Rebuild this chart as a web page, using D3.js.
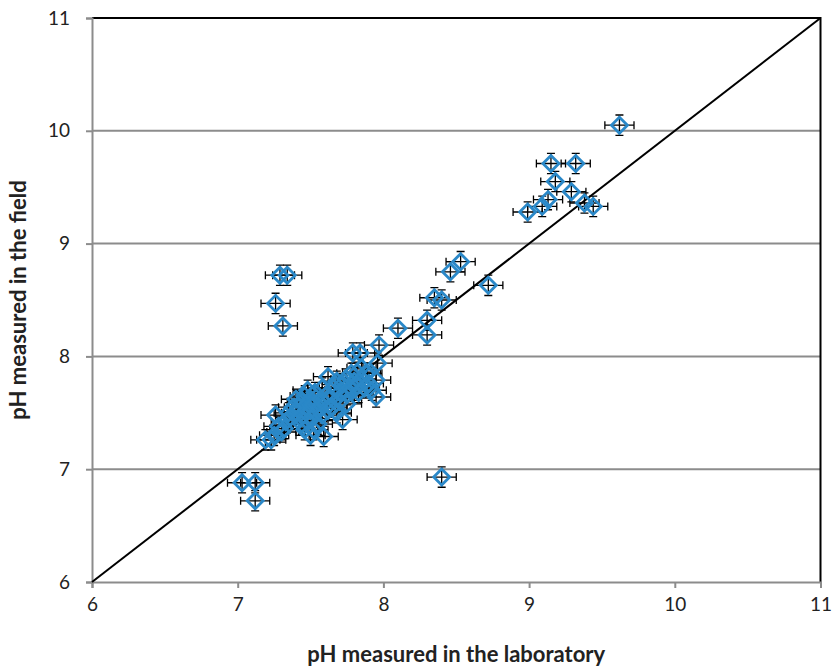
<!DOCTYPE html>
<html>
<head>
<meta charset="utf-8">
<script src="https://cdn.jsdelivr.net/npm/d3@7.9.0/dist/d3.min.js"></script>
<style>
  body { margin: 0; background: #fff; }
  svg text { font-family: Lato, "Open Sans", sans-serif; fill: #222; }
</style>
</head>
<body>
<div id="chart"></div>
<script>
// pH measured in the laboratory (x) vs in the field (y)
const labPH = [
  9.62, 9.15, 9.32, 9.18, 9.29, 9.13, 9.09, 8.99, 9.38, 9.44,
  7.29, 7.34, 7.26, 7.31, 8.53, 8.46, 8.72, 8.35, 8.40, 8.30,
  8.30, 8.10, 7.03, 7.12, 7.12, 8.40,
  7.79, 7.84, 7.97, 7.96, 7.95, 7.95, 7.89, 7.82,
  7.40, 7.42, 7.44, 7.45, 7.46, 7.47, 7.48, 7.49, 7.50, 7.50,
  7.51, 7.52, 7.53, 7.54, 7.55, 7.44, 7.43, 7.46, 7.48, 7.56,
  7.57, 7.58, 7.60, 7.61, 7.62, 7.40, 7.38, 7.36, 7.52, 7.58,
  7.26, 7.19, 7.23, 7.25, 7.30, 7.28, 7.33, 7.35, 7.32,
  7.64, 7.66, 7.68, 7.70, 7.72, 7.74, 7.75, 7.77, 7.79, 7.80,
  7.82, 7.83, 7.85, 7.87, 7.88, 7.90, 7.92, 7.72, 7.59, 7.50,
  7.65, 7.70, 7.78, 7.85, 7.62, 7.68, 7.75
];
const fieldPH = [
  10.05, 9.71, 9.71, 9.55, 9.46, 9.39, 9.33, 9.28, 9.36, 9.33,
  8.72, 8.72, 8.47, 8.27, 8.84, 8.75, 8.63, 8.52, 8.50, 8.32,
  8.19, 8.25, 6.88, 6.88, 6.72, 6.93,
  8.03, 8.03, 8.10, 7.94, 7.79, 7.64, 7.85, 7.86,
  7.50, 7.55, 7.60, 7.48, 7.65, 7.55, 7.42, 7.58, 7.52, 7.62,
  7.45, 7.57, 7.68, 7.50, 7.40, 7.40, 7.45, 7.35, 7.70, 7.55,
  7.62, 7.48, 7.58, 7.66, 7.52, 7.62, 7.55, 7.46, 7.35, 7.72,
  7.48, 7.26, 7.26, 7.30, 7.33, 7.38, 7.42, 7.50, 7.36,
  7.63, 7.72, 7.78, 7.68, 7.75, 7.80, 7.66, 7.72, 7.70, 7.78,
  7.74, 7.68, 7.80, 7.72, 7.85, 7.76, 7.70, 7.44, 7.29, 7.30,
  7.55, 7.60, 7.85, 7.90, 7.82, 7.50, 7.58
];
const xErr = 0.1;
const yErr = 0.09;
const tickValues = [6, 7, 8, 9, 10, 11];

const points = labPH.map((x, i) => ({ x, y: fieldPH[i] }));

const width = 835;
const height = 666;
const margin = { top: 18, right: 14, bottom: 84, left: 92 };

const svg = d3.select('#chart')
  .append('svg')
  .attr('width', width)
  .attr('height', height);

const xScale = d3.scaleLinear()
  .domain([6, 11])
  .range([margin.left, width - margin.right - 0.5]);

const yScale = d3.scaleLinear()
  .domain([6, 11])
  .range([height - margin.bottom, margin.top]);

// gridlines
svg.append('g')
  .selectAll('line')
  .data(tickValues.slice(1))
  .join('line')
  .attr('x1', xScale(6))
  .attr('x2', xScale(11))
  .attr('y1', (d) => yScale(d))
  .attr('y2', (d) => yScale(d))
  .attr('stroke', '#8c8c8c')
  .attr('stroke-width', 2);

// plot border (top / right)
svg.append('path')
  .attr('d', `M${xScale(6)},${yScale(11)}H${xScale(11)}V${yScale(6)}`)
  .attr('fill', 'none')
  .attr('stroke', '#000')
  .attr('stroke-width', 2);

// axes
const xAxis = svg.append('g')
  .attr('transform', `translate(0,${yScale(6)})`)
  .call(d3.axisBottom(xScale).tickValues(tickValues).tickSize(6).tickPadding(10).tickFormat(d3.format('d')));

const yAxis = svg.append('g')
  .attr('transform', `translate(${xScale(6)},0)`)
  .call(d3.axisLeft(yScale).tickValues(tickValues).tickSize(6).tickPadding(16).tickFormat(d3.format('d')));

[xAxis, yAxis].forEach((g) => {
  g.select('.domain').attr('stroke', '#8c8c8c').attr('stroke-width', 2);
  g.selectAll('.tick line').attr('stroke', '#8c8c8c').attr('stroke-width', 2);
  g.selectAll('.tick text')
    .attr('fill', '#262626')
    .style('font-size', '19px')
    .style('font-family', 'Lato, "Open Sans", sans-serif');
});

// 1:1 line
svg.append('line')
  .attr('x1', xScale(6))
  .attr('y1', yScale(6))
  .attr('x2', xScale(11))
  .attr('y2', yScale(11))
  .attr('stroke', '#000')
  .attr('stroke-width', 2);

// error bars
const bars = svg.append('g')
  .attr('stroke', '#000')
  .attr('stroke-width', 1.3)
  .attr('fill', 'none');

const cap = 4;
bars.selectAll('path')
  .data(points)
  .join('path')
  .attr('d', (d) => {
    const cx = xScale(d.x), cy = yScale(d.y);
    const x0 = xScale(d.x - xErr), x1 = xScale(d.x + xErr);
    const y0 = yScale(d.y - yErr), y1 = yScale(d.y + yErr);
    return `M${x0},${cy}H${x1}` +
      `M${x0},${cy - cap}V${cy + cap}M${x1},${cy - cap}V${cy + cap}` +
      `M${cx},${y0}V${y1}` +
      `M${cx - cap},${y0}H${cx + cap}M${cx - cap},${y1}H${cx + cap}`;
  });

// diamond markers
const r = 8;
svg.append('g')
  .selectAll('path')
  .data(points)
  .join('path')
  .attr('d', (d) => {
    const cx = xScale(d.x), cy = yScale(d.y);
    return `M${cx},${cy - r}L${cx + r},${cy}L${cx},${cy + r}L${cx - r},${cy}Z`;
  })
  .attr('fill', 'none')
  .attr('stroke', '#2a88c8')
  .attr('stroke-width', 2.8);

// axis titles
svg.append('text')
  .attr('x', (xScale(6) + xScale(11)) / 2)
  .attr('y', 662)
  .attr('text-anchor', 'middle')
  .style('font-size', '22px')
  .style('font-weight', 'bold')
  .text('pH measured in the laboratory');

svg.append('text')
  .attr('transform', 'rotate(-90)')
  .attr('x', -(yScale(6) + yScale(11)) / 2)
  .attr('y', 26)
  .attr('text-anchor', 'middle')
  .style('font-size', '22px')
  .style('font-weight', 'bold')
  .text('pH measured in the field');
</script>
</body>
</html>
